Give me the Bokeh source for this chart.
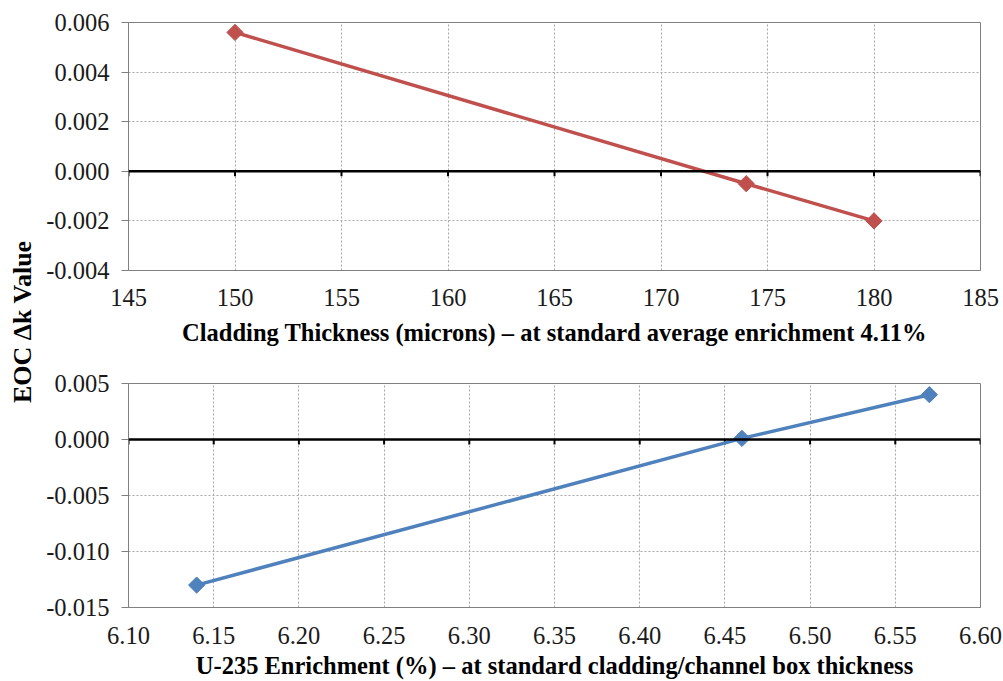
from bokeh.plotting import figure
from bokeh.layouts import row, column
from bokeh.models import Span, FixedTicker, NumeralTickFormatter, Range1d, Label
from bokeh.embed import file_html
from bokeh.resources import INLINE
import math

# ---- data ----
clad_x = [150, 174, 180]
clad_y = [0.0056, -0.0005, -0.0020]
enr_x = [6.14, 6.46, 6.57]
enr_y = [-0.0130, 0.0001, 0.0040]

top_xticks = [145, 150, 155, 160, 165, 170, 175, 180, 185]
top_yticks = [-0.004, -0.002, 0.0, 0.002, 0.004, 0.006]
bot_xticks = [6.10, 6.15, 6.20, 6.25, 6.30, 6.35, 6.40, 6.45, 6.50, 6.55, 6.60]
bot_yticks = [-0.015, -0.010, -0.005, 0.0, 0.005]

top_title = "Cladding Thickness (microns) \u2013 at standard average enrichment 4.11%"
bot_title = "U-235 Enrichment (%) \u2013 at standard cladding/channel box thickness"
y_title = "EOC  \u0394k Value"

FONT = "Liberation Serif"
TICK_SIZE = "24.5px"
TITLE_SIZE = "24.5px"
RED = "#C0504D"
BLUE = "#4F81BD"


def make_panel(xs, ys, xticks, yticks, xfmt, yfmt, title, color,
               height, frame_h, b_top, b_bottom, lab_standoff, title_standoff):
    p = figure(width=960, height=height, output_backend="svg", toolbar_location=None,
               x_range=Range1d(xticks[0], xticks[-1]), y_range=Range1d(yticks[0], yticks[-1]),
               min_border_left=84, min_border_right=23, min_border_top=b_top,
               min_border_bottom=b_bottom)
    p.background_fill_color = "white"
    p.border_fill_color = "white"
    p.outline_line_color = "#808080"
    p.outline_line_width = 1

    p.xaxis.ticker = FixedTicker(ticks=xticks)
    p.yaxis.ticker = FixedTicker(ticks=yticks)
    p.xaxis.formatter = NumeralTickFormatter(format=xfmt)
    p.yaxis.formatter = NumeralTickFormatter(format=yfmt)
    for ax in (p.xaxis, p.yaxis):
        ax.major_label_text_font = FONT
        ax.major_label_text_font_size = TICK_SIZE
        ax.major_label_text_color = "#1a1a1a"
        ax.axis_line_color = "#808080"
        ax.minor_tick_line_color = None
    p.yaxis.major_tick_line_color = "#808080"
    p.yaxis.major_tick_out = 7
    p.yaxis.major_tick_in = 0
    p.yaxis.major_label_standoff = 12
    p.xaxis.major_tick_line_color = None
    p.xaxis.major_tick_out = 0
    p.xaxis.major_tick_in = 0
    p.xaxis.major_label_standoff = lab_standoff
    p.xaxis.axis_label = title
    p.xaxis.axis_label_text_font = FONT
    p.xaxis.axis_label_text_font_size = TITLE_SIZE
    p.xaxis.axis_label_text_font_style = "bold"
    p.xaxis.axis_label_text_color = "black"
    p.xaxis.axis_label_standoff = title_standoff

    p.xgrid.ticker = FixedTicker(ticks=xticks)
    p.ygrid.ticker = FixedTicker(ticks=yticks)
    for g in (p.xgrid, p.ygrid):
        g.grid_line_color = "#a8a8a8"
        g.grid_line_dash = "2 2"
        g.grid_line_width = 1

    # zero axis line with tick marks below it
    p.add_layout(Span(location=0, dimension="width", line_color="black", line_width=2.5))
    delta = 5.0 * (yticks[-1] - yticks[0]) / frame_h
    p.segment(x0=xticks, y0=[0.0] * len(xticks), x1=xticks, y1=[-delta] * len(xticks),
              line_color="black", line_width=2)

    p.line(xs, ys, line_color=color, line_width=3.5)
    p.scatter(xs, ys, marker="square", size=11.5, angle=math.pi / 4,
              fill_color=color, line_color=color)
    return p


p1 = make_panel(clad_x, clad_y, top_xticks, top_yticks, "0", "0.000", top_title, RED,
                height=348, frame_h=248, b_top=22, b_bottom=78, lab_standoff=18, title_standoff=10)
p2 = make_panel(enr_x, enr_y, bot_xticks, bot_yticks, "0.00", "0.000", bot_title, BLUE,
                height=333, frame_h=224, b_top=35, b_bottom=74, lab_standoff=19, title_standoff=5)

side = figure(width=43, height=681, output_backend="svg", toolbar_location=None,
              x_range=Range1d(0, 43), y_range=Range1d(0, 681),
              x_axis_type=None, y_axis_type=None,
              min_border_left=0, min_border_right=0, min_border_top=0, min_border_bottom=0)
side.outline_line_color = None
side.xgrid.visible = False
side.ygrid.visible = False
side.add_layout(Label(x=22, y=681 - 318, text=y_title, angle=math.pi / 2,
                      text_align="center", text_baseline="middle",
                      text_font=FONT, text_font_size="26px", text_font_style="bold",
                      text_color="black"))

layout = row(side, column(p1, p2))

open("out.html", "w").write(file_html(layout, INLINE))
